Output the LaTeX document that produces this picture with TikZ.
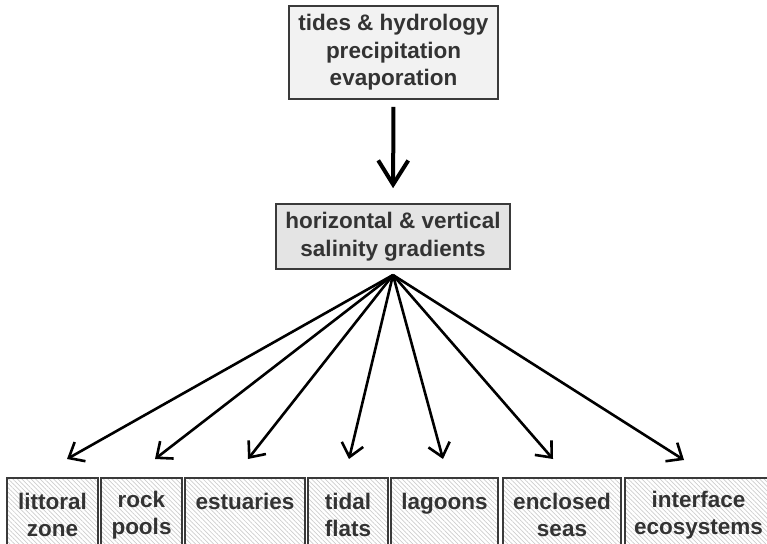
\documentclass[tikz,border=0pt]{standalone}
\usepackage{fontspec}
\setmainfont{Liberation Sans}
\usetikzlibrary{arrows.meta,patterns.meta}
\definecolor{boxline}{HTML}{3A3A3A}
\definecolor{txt}{HTML}{333333}
\definecolor{topfill}{HTML}{F2F2F2}
\definecolor{midfill}{HTML}{E4E4E4}
\definecolor{hatch}{HTML}{CDCDCD}
\tikzset{
  box/.style={draw=boxline, line width=1.6pt, rectangle, inner sep=0pt,
    align=center, text=txt, font=\fontsize{22.5}{27.5}\selectfont\bfseries},
  leaf/.style={box, minimum height=74pt,
    pattern={Lines[angle=-45,distance=3.2pt,line width=0.7pt]}, pattern color=hatch},
  spoke/.style={line width=2.6pt, -{Straight Barb[length=13pt,width=22pt,line width=2.6pt]}},
  bigarrow/.style={line width=4pt, -{Straight Barb[length=24pt,width=30pt,line width=4pt]}}
}
\begin{document}
\begin{tikzpicture}[x=1pt,y=-1pt]
\useasboundingbox (0,0) rectangle (767,543);
\clip (0,0) rectangle (767,543);
\node[box, fill=topfill, minimum width=209pt, minimum height=93pt] (top) at (393.5,52.5) {tides \& hydrology\\precipitation\\evaporation};
\node[box, fill=midfill, minimum width=234pt, minimum height=65pt] (mid) at (393,236.5) {horizontal \& vertical\\salinity gradients};
\coordinate (hub) at (393,275);
\node[leaf, minimum width=91pt] (b1) at (52.5,515) {littoral\\zone};
\node[leaf, minimum width=81pt] (b2) at (141.5,515) {rock\\pools};
\node[leaf, minimum width=120pt] (b3) at (245,515) {estuaries\\\phantom{x}};
\node[leaf, minimum width=80pt] (b4) at (348,515) {tidal\\flats};
\node[leaf, minimum width=107pt] (b5) at (444.5,515) {lagoons\\\phantom{x}};
\node[leaf, minimum width=118pt] (b6) at (562,515) {enclosed\\seas};
\node[leaf, minimum width=147pt] (b7) at (698.5,515) {interface\\ecosystems};
\coordinate (t1) at (67,459);
\coordinate (t2) at (155,459);
\coordinate (t3) at (248,459);
\coordinate (t4) at (349,459);
\coordinate (t5) at (443,459);
\coordinate (t6) at (553,459);
\coordinate (t7) at (684,460);
\draw[bigarrow, shorten <=7pt, shorten >=15pt] (top.south) -- (mid.north);
\foreach \i in {1,...,7}{ \draw[spoke] (hub) -- (t\i); }
\end{tikzpicture}
\end{document}
